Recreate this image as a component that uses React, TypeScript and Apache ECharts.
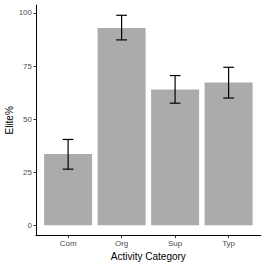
import React, { useEffect, useRef } from "react";
import * as echarts from "echarts";

const categories = ["Com", "Org", "Sup", "Typ"];
const values = [33.5, 92.9, 63.9, 67.2];
const lower = [26.4, 87.3, 57.5, 59.9];
const upper = [40.4, 98.9, 70.5, 74.4];
const yTicks = [0, 25, 50, 75, 100];
const xPositions = [1, 2, 3, 4];

const FONT = "Liberation Sans, Arial, sans-serif";

export default function App() {
  const ref = useRef<HTMLDivElement>(null);
  useEffect(() => {
    document.body.style.margin = "0";
    const chart = echarts.init(ref.current!, null, { renderer: "svg" });
    const barData = xPositions.map((x, i) => [x, values[i]]);
    const errData = xPositions.map((x, i) => [x, lower[i], upper[i]]);
    chart.setOption({
      animation: false,
      backgroundColor: "#ffffff",
      grid: {
        left: 36,
        right: 5.3,
        top: 5,
        bottom: 30.3,
        containLabel: false,
        outerBoundsMode: "none",
      },
      xAxis: {
        type: "value",
        min: 0.4,
        max: 4.6,
        name: "Activity Category",
        nameLocation: "middle",
        nameGap: 15.5,
        nameMoveOverlap: false,
        nameTextStyle: { color: "#000", fontSize: 10, fontFamily: FONT, verticalAlign: "top" },
        axisLine: { onZero: false, lineStyle: { color: "#000", width: 1 } },
        axisTick: { customValues: xPositions, length: 2.5, lineStyle: { color: "#333" } },
        axisLabel: {
          customValues: xPositions,
          formatter: (v: number) => categories[Math.round(v) - 1] ?? "",
          color: "#4d4d4d",
          fontSize: 8,
          fontFamily: FONT,
          margin: 4,
        },
        splitLine: { show: false },
      },
      yAxis: {
        type: "value",
        min: -4.94,
        max: 103.74,
        name: "Elite%",
        nameLocation: "middle",
        nameGap: 22,
        nameMoveOverlap: false,
        nameRotate: 90,
        nameTextStyle: { color: "#000", fontSize: 10, fontFamily: FONT },
        axisLine: { show: true, onZero: false, lineStyle: { color: "#000", width: 1 } },
        axisTick: { show: true, customValues: yTicks, length: 2.5, lineStyle: { color: "#333" } },
        axisLabel: {
          customValues: yTicks,
          color: "#4d4d4d",
          fontSize: 8,
          fontFamily: FONT,
          margin: 4,
        },
        splitLine: { show: false },
      },
      series: [
        {
          type: "bar",
          data: barData,
          barWidth: 48,
          z: 2,
          itemStyle: { color: "#ababab" },
        },
        {
          type: "custom",
          data: errData,
          z: 5,
          encode: { x: 0, y: [1, 2] },
          renderItem: (params: any, api: any) => {
            const x = api.value(0);
            const lo = api.value(1);
            const hi = api.value(2);
            const pLo = api.coord([x, lo]);
            const pHi = api.coord([x, hi]);
            const half = api.size([0.2, 0])[0] / 2;
            const style = { stroke: "#000", lineWidth: 1.2 };
            return {
              type: "group",
              children: [
                { type: "line", shape: { x1: pLo[0], y1: pLo[1], x2: pHi[0], y2: pHi[1] }, style },
                { type: "line", shape: { x1: pLo[0] - half, y1: pLo[1], x2: pLo[0] + half, y2: pLo[1] }, style },
                { type: "line", shape: { x1: pHi[0] - half, y1: pHi[1], x2: pHi[0] + half, y2: pHi[1] }, style },
              ],
            };
          },
        },
      ],
    });
    return () => chart.dispose();
  }, []);
  return <div ref={ref} style={{ width: 266, height: 266 }} />;
}
